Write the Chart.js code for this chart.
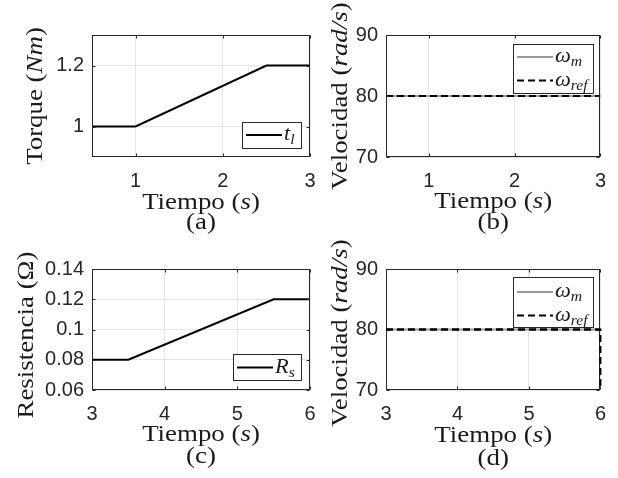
<!DOCTYPE html>
<html>
<head>
<meta charset="utf-8">
<script src="https://cdn.jsdelivr.net/npm/chart.js@4/dist/chart.umd.min.js"></script>
<style>
  html, body { margin: 0; padding: 0; background: #ffffff; }
  #fig { position: relative; width: 618px; height: 478px; overflow: hidden; background: #ffffff; }
  #fig canvas { position: absolute; left: 0; top: 0; }
</style>
</head>
<body>
<div id="fig">
  <canvas id="pa" width="618" height="478"></canvas>
  <canvas id="pb" width="618" height="478"></canvas>
  <canvas id="pc" width="618" height="478"></canvas>
  <canvas id="pd" width="618" height="478"></canvas>
</div>
<script>
// (a) load torque profile
const torqueTime = [0.5, 1.0, 2.5, 3.0];
const torqueNm   = [1.0, 1.0, 1.2, 1.2];
// (b) speed tracking while the load changes
const speedTimeB = [0.5, 3.0];
const omegaMB    = [80, 80];
const omegaRefB  = [80, 80];
// (c) stator resistance ramp
const resistTime = [3.0, 3.5, 5.5, 6.0];
const resistOhm  = [0.08, 0.08, 0.12, 0.12];
// (d) speed tracking while the resistance changes
const speedTimeD = [3.0, 6.0];
const omegaMD    = [80, 80];
const refTimeD   = [3.0, 6.0, 6.0];
const omegaRefD  = [80, 80, 0];
// tick values
const ticksTimeAB  = [1, 2, 3];
const ticksTimeCD  = [3, 4, 5, 6];
const ticksTorque  = [1, 1.2];
const ticksSpeed   = [70, 80, 90];
const ticksResist  = [0.06, 0.08, 0.10, 0.12, 0.14];

const W = 618, H = 478;
const INK = '#262626';
const GRID = '#e4e4e4';
const SERIF = '"Liberation Serif", "Times New Roman", serif';
const SANS = '"Liberation Sans", Arial, Helvetica, sans-serif';
const LABEL_SIZE = 24;
const TICK_SIZE = 20;
const SERIF_STRETCH = 1.12;

const pts = (xs, ys) => xs.map((x, i) => ({ x, y: ys[i] }));
const fmt = v => String(Math.round(v * 1000) / 1000);

// mixed upright / italic / subscript text
function partFont(style, size) {
  if (style === 'n') return `${size}px ${SERIF}`;
  if (style === 'i') return `italic ${size}px ${SERIF}`;
  return `italic ${Math.round(size * 0.7)}px ${SERIF}`;
}
function richWidth(ctx, parts, size) {
  let w = 0;
  for (const [t, s] of parts) { ctx.font = partFont(s, size); w += ctx.measureText(t).width; }
  return w;
}
// x, y: anchor at the text baseline; align 'center' | 'left'
function drawRich(ctx, parts, size, x, y, align, rotate) {
  ctx.save();
  ctx.translate(x, y);
  if (rotate) ctx.rotate(-Math.PI / 2);
  ctx.scale(SERIF_STRETCH, 1);
  ctx.fillStyle = '#1a1a1a';
  ctx.textBaseline = 'alphabetic';
  ctx.textAlign = 'left';
  let cx = align === 'center' ? -richWidth(ctx, parts, size) / 2 : 0;
  for (const [t, s] of parts) {
    ctx.font = partFont(s, size);
    const dy = s === 's' ? size * 0.22 : 0;
    ctx.fillText(t, cx, dy);
    cx += ctx.measureText(t).width;
  }
  ctx.restore();
}

const TXT_TIEMPO = [['Tiempo (', 'n'], ['s', 'i'], [')', 'n']];
const TXT_TORQUE = [['Torque (', 'n'], ['Nm', 'i'], [')', 'n']];
const TXT_VEL    = [['Velocidad (', 'n'], ['rad/s', 'i'], [')', 'n']];
const TXT_RES    = [['Resistencia (Ω)', 'n']];

// frame, inner ticks, axis titles and in-axes legend
function decorations(cfg) {
  return {
    id: 'decor',
    afterDraw(chart) {
      const ctx = chart.ctx;
      const a = chart.chartArea;
      const xs = chart.scales.x, ys = chart.scales.y;
      ctx.save();
      // box
      ctx.strokeStyle = INK;
      ctx.lineWidth = 1;
      const l = Math.round(a.left) + 0.5, t = Math.round(a.top) + 0.5;
      const r = Math.round(a.right) - 0.5, b = Math.round(a.bottom) - 0.5;
      ctx.strokeRect(l, t, r - l, b - t);
      // inward tick marks
      const TL = 3;
      ctx.beginPath();
      for (const v of cfg.xTicks) {
        const px = Math.round(xs.getPixelForValue(v)) + 0.5;
        ctx.moveTo(px, b); ctx.lineTo(px, b - TL);
        ctx.moveTo(px, t); ctx.lineTo(px, t + TL);
      }
      for (const v of cfg.yTicks) {
        const py = Math.round(ys.getPixelForValue(v)) + 0.5;
        ctx.moveTo(l, py); ctx.lineTo(l + TL, py);
        ctx.moveTo(r, py); ctx.lineTo(r - TL, py);
      }
      ctx.stroke();

      // the reference step at the right edge is drawn over the frame
      if (cfg.redrawOnTop) {
        const ds = chart.data.datasets[cfg.redrawOnTop];
        const meta = chart.getDatasetMeta(cfg.redrawOnTop);
        ctx.save();
        ctx.beginPath();
        ctx.rect(a.left, a.top, a.right - a.left + 2, a.bottom - a.top);
        ctx.clip();
        ctx.strokeStyle = ds.borderColor;
        ctx.lineWidth = ds.borderWidth;
        ctx.setLineDash(ds.borderDash || []);
        ctx.beginPath();
        meta.data.forEach((p, i) => { if (i === 0) ctx.moveTo(p.x, p.y); else ctx.lineTo(p.x, p.y); });
        ctx.stroke();
        ctx.restore();
      }

      // legend
      const lg = cfg.legend;
      ctx.fillStyle = '#ffffff';
      ctx.fillRect(lg.l, lg.t, lg.r - lg.l, lg.b - lg.t);
      ctx.strokeStyle = INK;
      ctx.lineWidth = 1;
      ctx.strokeRect(lg.l + 0.5, lg.t + 0.5, lg.r - lg.l - 1, lg.b - lg.t - 1);
      lg.entries.forEach(e => {
        const ds = chart.data.datasets[e.ds];
        ctx.save();
        ctx.strokeStyle = ds.borderColor;
        ctx.lineWidth = ds.borderWidth;
        ctx.setLineDash(ds.borderDash || []);
        ctx.beginPath();
        ctx.moveTo(lg.l + 4, e.y);
        ctx.lineTo(lg.l + 4 + lg.sample, e.y);
        ctx.stroke();
        ctx.restore();
        drawRich(ctx, e.text, 20, lg.l + 6 + lg.sample, e.y + 5, 'left', false);
      });

      // axis titles and panel letter
      const mid = (a.left + a.right) / 2;
      drawRich(ctx, TXT_TIEMPO, LABEL_SIZE, mid, cfg.xTitleBase, 'center', false);
      drawRich(ctx, [[cfg.letter, 'n']], LABEL_SIZE, mid, cfg.letterBase, 'center', false);
      drawRich(ctx, cfg.yTitle, LABEL_SIZE, cfg.yTitleBase, cfg.yTitleMid, 'center', true);
      ctx.restore();
    }
  };
}

function panel(id, cfg) {
  const YW = 60, XH = 30;
  const tickFont = { family: SANS, size: TICK_SIZE };
  new Chart(document.getElementById(id), {
    type: 'line',
    data: { datasets: cfg.datasets },
    options: {
      responsive: false,
      animation: false,
      devicePixelRatio: 1,
      events: [],
      layout: {
        padding: { left: cfg.box.l - YW, top: cfg.box.t, right: W - cfg.box.r, bottom: H - cfg.box.b - XH }
      },
      plugins: { legend: { display: false }, tooltip: { enabled: false } },
      elements: { point: { radius: 0 }, line: { tension: 0 } },
      scales: {
        x: {
          type: 'linear', min: cfg.xMin, max: cfg.xMax,
          afterBuildTicks: s => { s.ticks = cfg.xTicks.map(v => ({ value: v })); },
          afterFit: s => { s.height = XH; },
          grid: { color: GRID, lineWidth: 1, drawTicks: false },
          border: { display: false },
          ticks: { font: tickFont, color: INK, padding: 12, maxRotation: 0, autoSkip: false, callback: v => fmt(v) }
        },
        y: {
          type: 'linear', min: cfg.yMin, max: cfg.yMax,
          afterBuildTicks: s => { s.ticks = cfg.yTicks.map(v => ({ value: v })); },
          afterFit: s => { s.width = YW; },
          grid: { color: GRID, lineWidth: 1, drawTicks: false },
          border: { display: false },
          ticks: { font: tickFont, color: INK, padding: 8, autoSkip: false, callback: v => fmt(v) }
        }
      }
    },
    plugins: [decorations(cfg)]
  });
}

const solidBlack = data => ({ data, borderColor: '#000000', borderWidth: 2, fill: false });
const solidGray  = data => ({ data, borderColor: '#999999', borderWidth: 2, fill: false, order: 1 });
const dashBlack  = data => ({ data, borderColor: '#000000', borderWidth: 2, borderDash: [7, 4], fill: false, order: 0 });

panel('pa', {
  box: { l: 92, t: 35, r: 310, b: 157 },
  xMin: 0.5, xMax: 3, yMin: 0.9, yMax: 1.3,
  xTicks: ticksTimeAB, yTicks: ticksTorque,
  datasets: [Object.assign(solidBlack(pts(torqueTime, torqueNm)), { label: 't_l' })],
  yTitle: TXT_TORQUE, yTitleBase: 42, yTitleMid: 96,
  xTitleBase: 208.5, letter: '(a)', letterBase: 229,
  legend: { l: 242, t: 122, r: 302, b: 149, sample: 36,
            entries: [{ ds: 0, y: 135, text: [['t', 'i'], ['l', 's']] }] }
});

panel('pb', {
  box: { l: 386, t: 35, r: 603, b: 157 },
  xMin: 0.5, xMax: 3, yMin: 70, yMax: 90,
  xTicks: ticksTimeAB, yTicks: ticksSpeed,
  datasets: [
    Object.assign(solidGray(pts(speedTimeB, omegaMB)), { label: 'ω_m' }),
    Object.assign(dashBlack(pts(speedTimeB, omegaRefB)), { label: 'ω_ref' })
  ],
  yTitle: TXT_VEL, yTitleBase: 347, yTitleMid: 96,
  xTitleBase: 208, letter: '(b)', letterBase: 229,
  legend: { l: 513, t: 44, r: 594, b: 94, sample: 36,
            entries: [{ ds: 0, y: 57, text: [['ω', 'i'], ['m', 's']] },
                      { ds: 1, y: 80.5, text: [['ω', 'i'], ['ref', 's']] }] }
});

panel('pc', {
  box: { l: 92, t: 269, r: 310, b: 390 },
  xMin: 3, xMax: 6, yMin: 0.06, yMax: 0.14,
  xTicks: ticksTimeCD, yTicks: ticksResist,
  datasets: [Object.assign(solidBlack(pts(resistTime, resistOhm)), { label: 'R_s' })],
  yTitle: TXT_RES, yTitleBase: 33, yTitleMid: 335,
  xTitleBase: 440.5, letter: '(c)', letterBase: 463,
  legend: { l: 233, t: 354, r: 302, b: 381, sample: 36,
            entries: [{ ds: 0, y: 367.5, text: [['R', 'i'], ['s', 's']] }] }
});

panel('pd', {
  box: { l: 386, t: 269, r: 603, b: 390 },
  xMin: 3, xMax: 6, yMin: 70, yMax: 90,
  xTicks: ticksTimeCD, yTicks: ticksSpeed,
  datasets: [
    Object.assign(solidGray(pts(speedTimeD, omegaMD)), { label: 'ω_m' }),
    Object.assign(dashBlack(pts(refTimeD, omegaRefD)), { label: 'ω_ref' })
  ],
  redrawOnTop: 1,
  yTitle: TXT_VEL, yTitleBase: 347, yTitleMid: 333,
  xTitleBase: 441.5, letter: '(d)', letterBase: 465,
  legend: { l: 513, t: 277, r: 594, b: 328, sample: 36,
            entries: [{ ds: 0, y: 292, text: [['ω', 'i'], ['m', 's']] },
                      { ds: 1, y: 315.5, text: [['ω', 'i'], ['ref', 's']] }] }
});
</script>
</body>
</html>
